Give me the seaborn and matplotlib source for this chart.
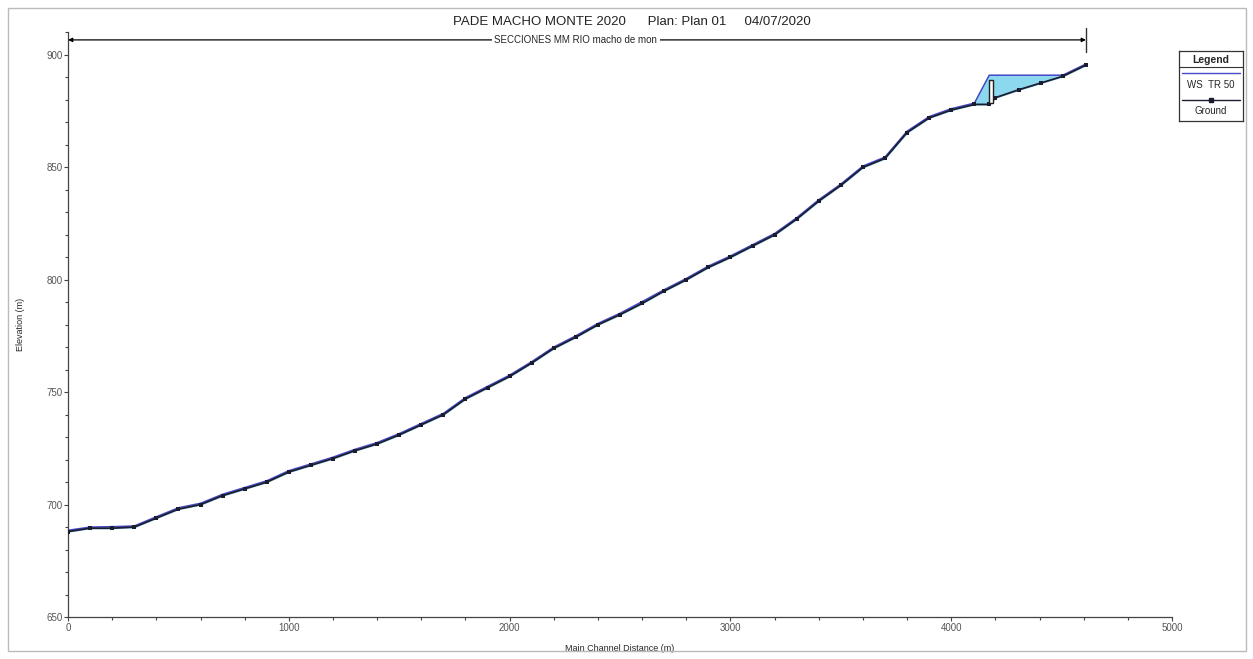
import numpy as np
import pandas as pd
import matplotlib.pyplot as plt
import seaborn as sns
from matplotlib.patches import Rectangle

# datos del perfil
station = [0, 100, 200, 300, 400, 500, 600, 700, 800, 900,
           1000, 1100, 1200, 1300, 1400, 1500, 1600, 1700, 1800, 1900,
           2000, 2100, 2200, 2300, 2400, 2500, 2600, 2700, 2800, 2900,
           3000, 3100, 3200, 3300, 3400, 3500, 3600, 3700, 3800, 3900,
           4000, 4105, 4172, 4200, 4305, 4405, 4505, 4610]
ground = [688, 689.5, 689.5, 690, 694, 698, 700, 704, 707, 710,
          714.5, 717.5, 720.5, 724, 727, 731, 735.5, 740, 747, 752,
          757, 763, 769.5, 774.5, 780, 784.5, 789.5, 795, 800, 805.5,
          810, 815, 820, 827, 835, 842, 850, 854, 865.5, 872,
          875.5, 878, 878, 881, 884.5, 887.5, 890.5, 895.5]
ws = [688.6, 690, 690.2, 690.5, 694.6, 698.6, 700.6, 704.6, 707.6, 710.6,
      715.1, 718.1, 721.1, 724.6, 727.6, 731.6, 736.1, 740.6, 747.6, 752.6,
      757.6, 763.6, 770.1, 775.1, 780.6, 785.1, 790.3, 795.6, 800.6, 806.1,
      810.6, 815.6, 820.6, 827.6, 835.6, 842.6, 850.6, 854.6, 866.1, 872.6,
      876.1, 878.6, 891, 891, 891, 891, 891, 896]

# estructura (puente/alcantarilla)
struct_x = [4170, 4190]
struct_z = [878.5, 889]

df = pd.DataFrame({"station": station, "ground": ground, "ws": ws})

sns.set_style("ticks")
plt.rcParams["font.family"] = ["Liberation Sans", "DejaVu Sans"]

fig = plt.figure(figsize=(12.53, 6.59), dpi=100)
ax = fig.add_axes([0.0543, 0.0637, 0.8811, 0.887])

ax.fill_between(df["station"], df["ground"], df["ws"], color="#8cd8ee", zorder=1)
sns.lineplot(data=df, x="station", y="ws", color="#4848c8", lw=1.1, ax=ax, zorder=2)
sns.lineplot(data=df, x="station", y="ground", color="#1c1c30", lw=1.3,
             marker="s", markersize=3.0, markeredgewidth=0, ax=ax, zorder=3)

ax.add_patch(Rectangle((struct_x[0], struct_z[0]), struct_x[1] - struct_x[0],
                       struct_z[1] - struct_z[0], facecolor="white",
                       edgecolor="#202020", lw=1.0, zorder=4))

ax.set_xlim(0, 5000)
ax.set_ylim(650, 910)
ax.set_xticks([0, 1000, 2000, 3000, 4000, 5000])
ax.set_xticks(np.arange(0, 5001, 200), minor=True)
ax.set_yticks([650, 700, 750, 800, 850, 900])
ax.set_yticks(np.arange(650, 911, 10), minor=True)
ax.tick_params(axis="both", which="major", labelsize=7, length=3, width=0.8,
               colors="#444444", labelcolor="#555555", pad=1)
ax.tick_params(axis="both", which="minor", length=2, width=0.8, colors="#444444")
for s in ["top", "right"]:
    ax.spines[s].set_visible(False)
for s in ["left", "bottom"]:
    ax.spines[s].set_color("#444444")
    ax.spines[s].set_linewidth(0.9)

ax.set_xlabel("Main Channel Distance (m)", fontsize=6.5, labelpad=8)
ax.set_ylabel("Elevation (m)", fontsize=6.5, labelpad=15)

# linea de tramo con flechas
reach_end = station[-1]
ax.annotate("", xy=(0, 906.7), xytext=(reach_end, 906.7),
            arrowprops=dict(arrowstyle="<|-|>", color="black", lw=0.9,
                            mutation_scale=6, shrinkA=0, shrinkB=0),
            annotation_clip=False)
ax.plot([reach_end, reach_end], [901.5, 912], color="#333333", lw=1.0,
        clip_on=False)
ax.text(2300, 906.7, "SECCIONES MM RIO macho de mon", fontsize=7,
        ha="center", va="center",
        bbox=dict(facecolor="white", edgecolor="none", pad=2))

fig.text(0.504, 0.966, "PADE MACHO MONTE 2020      Plan: Plan 01     04/07/2020",
         fontsize=9.5, ha="center", va="center", color="#222222")

# leyenda manual
lg = fig.add_axes([1179 / 1253, 1 - 121 / 659, 64 / 1253, 70 / 659])
lg.set_xlim(0, 1)
lg.set_ylim(0, 1)
lg.set_xticks([])
lg.set_yticks([])
for s in lg.spines.values():
    s.set_color("#333333")
    s.set_linewidth(0.9)
lg.text(0.5, 0.87, "Legend", fontsize=7.5, fontweight="bold", ha="center", va="center")
lg.plot([0, 1], [0.77, 0.77], color="#333333", lw=0.8)
lg.plot([0.05, 0.95], [0.68, 0.68], color="#4848c8", lw=1.0)
lg.text(0.5, 0.52, "WS  TR 50", fontsize=7, ha="center", va="center")
lg.plot([0.05, 0.95], [0.30, 0.30], color="#1c1c30", lw=1.0)
lg.plot([0.5], [0.30], marker="s", color="#1c1c30", markersize=3.0)
lg.text(0.5, 0.15, "Ground", fontsize=7, ha="center", va="center")

# marco exterior
fig.patches.append(Rectangle((8 / 1253, 1 - 651 / 659), 1238 / 1253, 643 / 659,
                             transform=fig.transFigure, fill=False,
                             edgecolor="#bbbbbb", lw=1.0))

fig.savefig("out.png", dpi=100)
